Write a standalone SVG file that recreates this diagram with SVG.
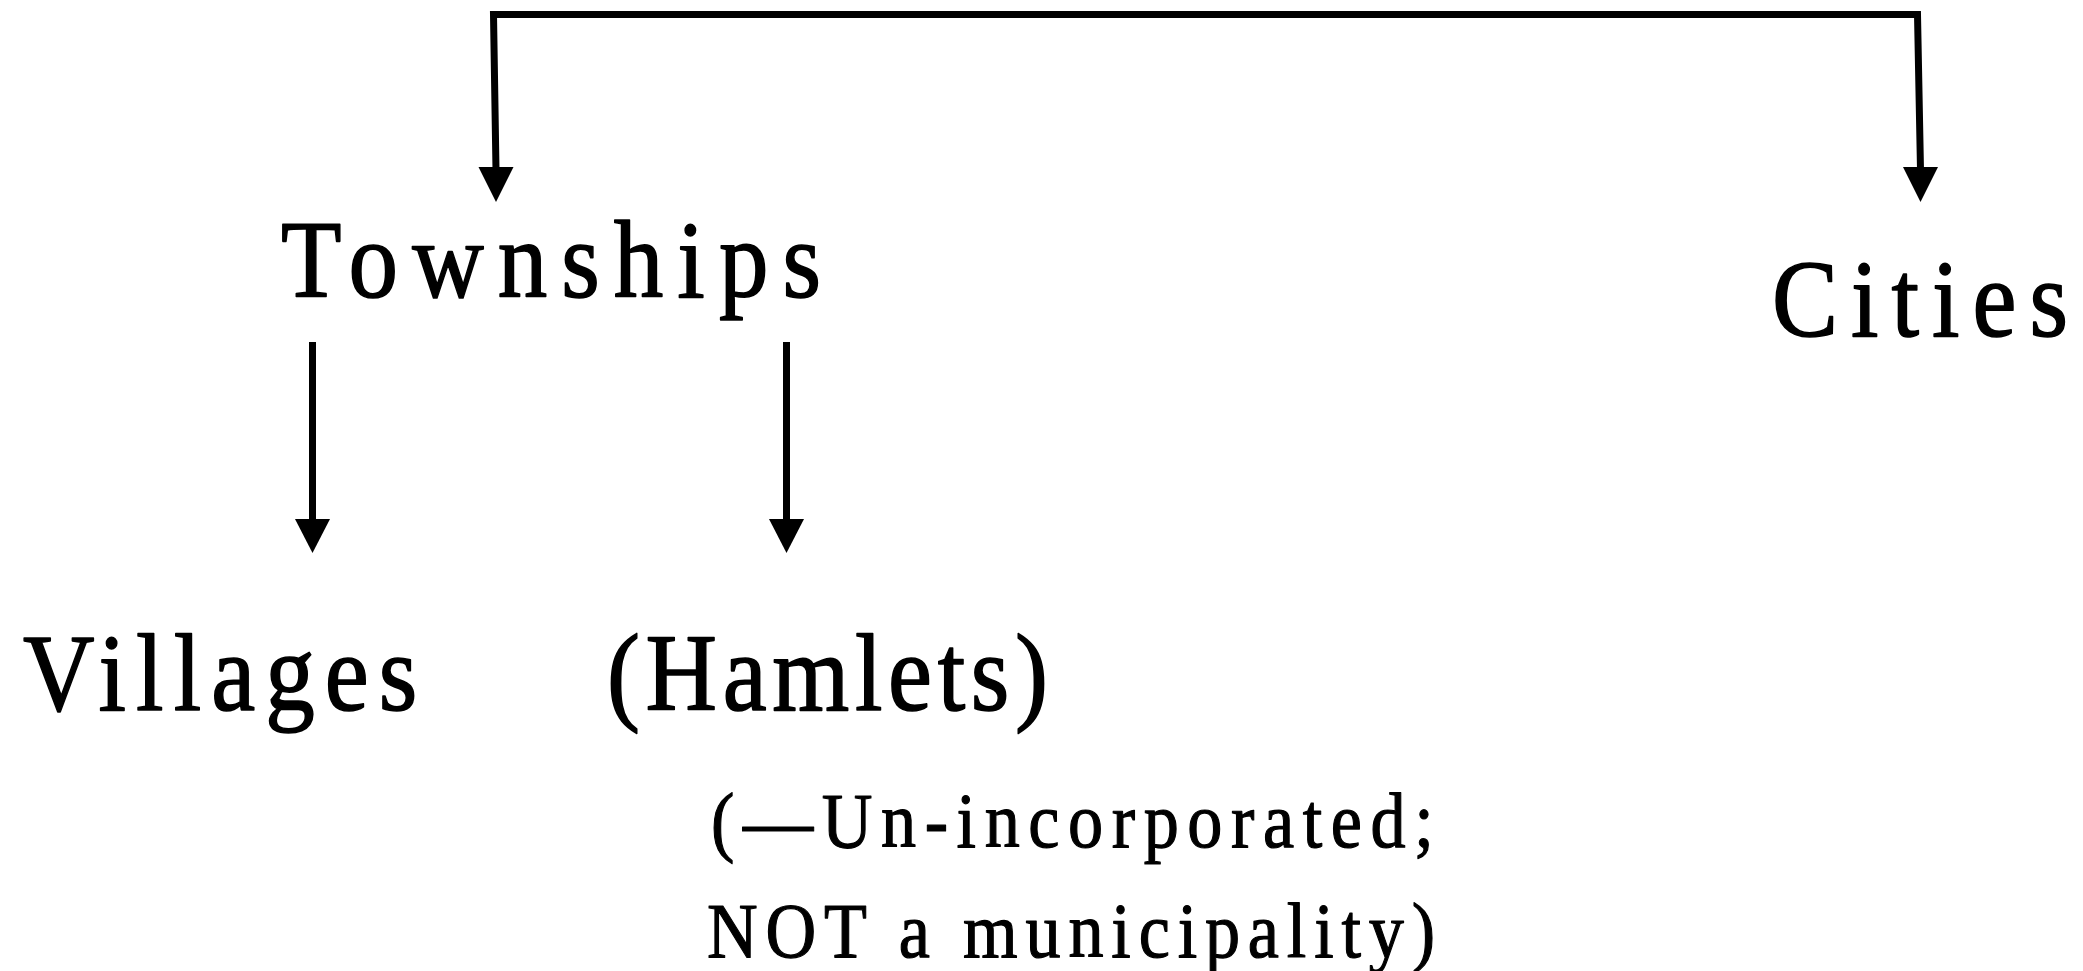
<svg xmlns="http://www.w3.org/2000/svg" width="2083" height="971" viewBox="0 0 2083 971">
  <style>
    .big { font-family: "Liberation Serif", "Times New Roman", serif; font-size: 110px; fill: #000; stroke: #000; stroke-width: 1.6; stroke-linejoin: round; }
    .small { font-family: "Liberation Serif", "Times New Roman", serif; font-size: 78px; fill: #000; stroke: #000; stroke-width: 1.2; stroke-linejoin: round; }
    .conn { fill: none; stroke: #000; stroke-width: 7; stroke-linejoin: miter; stroke-linecap: butt; }
    .head { fill: #000; stroke: none; }
  </style>
  <rect width="2083" height="971" fill="#fff"/>
  <g id="connectors">
    <path class="conn" d="M 496 170 L 493.5 14.5 L 1917.5 14.5 L 1920.5 170"/>
    <polygon class="head" points="478.5,167 513.5,167 496,202"/>
    <polygon class="head" points="1903,167 1938,167 1920.5,202"/>
    <path class="conn" d="M 312.5 342 L 312.5 522"/>
    <polygon class="head" points="295,519 330,519 312.5,553"/>
    <path class="conn" d="M 786.5 342 L 786.5 522"/>
    <polygon class="head" points="769,519 804,519 786.5,553"/>
  </g>
  <g id="townships">
    <text class="big" transform="translate(281,297) scale(0.9,1)" x="0" y="0" textLength="600" lengthAdjust="spacing">Townships</text>
  </g>
  <g id="cities">
    <text class="big" transform="translate(1772,336) scale(0.9,1)" x="0" y="0" textLength="329" lengthAdjust="spacing">Cities</text>
  </g>
  <g id="villages">
    <text class="big" transform="translate(23,710) scale(0.9,1)" x="0" y="0" textLength="438" lengthAdjust="spacing">Villages</text>
  </g>
  <g id="hamlets">
    <text class="big" transform="translate(607,710) scale(0.9,1)" x="0" y="0" textLength="490" lengthAdjust="spacing">(Hamlets)</text>
    <text class="small" transform="translate(711,847) scale(0.9,1)" x="0" y="0" textLength="803" lengthAdjust="spacing">(—Un-incorporated;</text>
    <text class="small" transform="translate(707,957) scale(0.9,1)" x="0" y="0" textLength="809" lengthAdjust="spacing">NOT a municipality)</text>
  </g>
</svg>
